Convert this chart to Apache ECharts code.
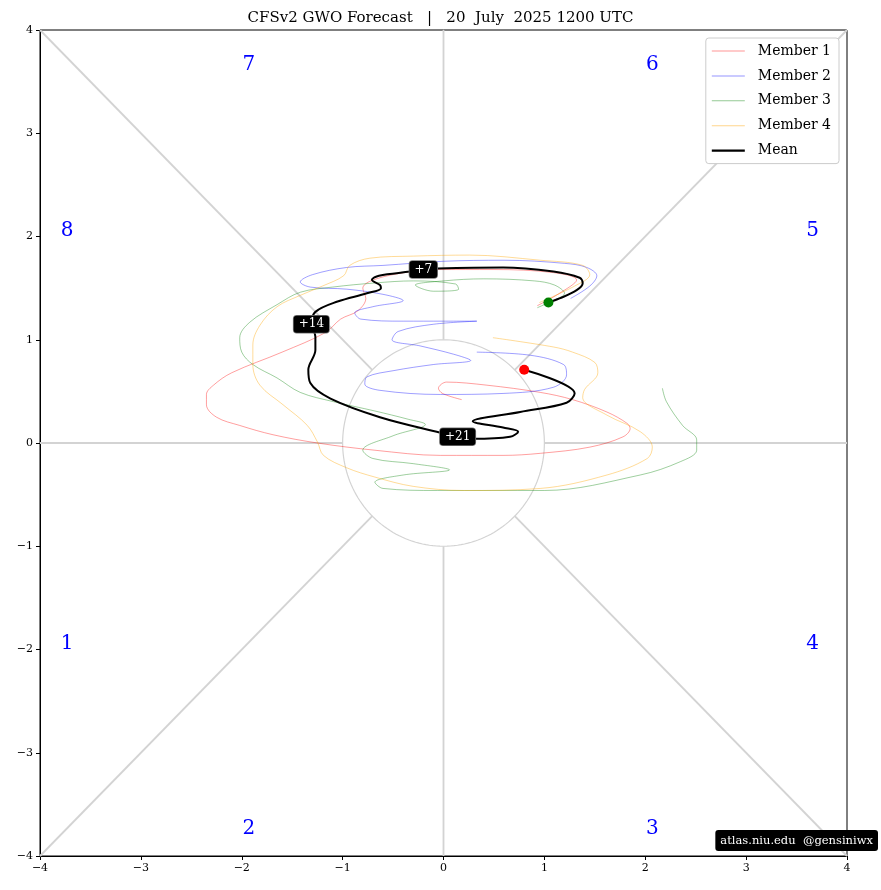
<!DOCTYPE html>
<html><head><meta charset="utf-8">
<script src="https://cdn.jsdelivr.net/npm/echarts@6/dist/echarts.min.js"></script>
<style>html,body{margin:0;padding:0;background:#fff}#c{width:881px;height:890px}</style>
</head><body><div id="c"></div>
<script>
const titleText = 'CFSv2 GWO Forecast   |   20  July  2025 1200 UTC';
const axisTicks = [-4,-3,-2,-1,0,1,2,3,4];
const phaseNames = ['1','2','3','4','5','6','7','8'];
const phaseX = [-3.73,-1.93,2.07,3.66,3.66,2.07,-1.93,-3.73];
const phaseY = [-1.94,-3.74,-3.74,-1.94,2.06,3.66,3.66,2.06];

const member1 = [[0.93,1.33],[1.15,1.45],[1.32,1.58],[1.09,1.65],[0.5,1.68],[-0.06,1.68],[-0.45,1.64],[-0.72,1.57],[-0.80,1.50],[-0.77,1.40],[-0.85,1.28],[-1.02,1.20],[-1.17,1.07],[-1.6,0.88],[-2.10,0.68],[-2.28,0.56],[-2.35,0.47],[-2.35,0.37],[-2.25,0.25],[-2.02,0.17],[-1.69,0.08],[-1.25,0.0],[-0.68,-0.07],[-0.03,-0.12],[0.59,-0.12],[0.96,-0.10],[1.45,-0.04],[1.78,0.06],[1.85,0.14],[1.82,0.19],[1.62,0.30],[1.28,0.42],[0.96,0.49],[0.43,0.56],[0.03,0.59],[-0.05,0.53],[-0.01,0.48],[0.18,0.42]];
const member2 = [[1.26,1.40],[1.45,1.52],[1.52,1.62],[1.42,1.70],[1.2,1.74],[0.6,1.77],[0,1.76],[-0.6,1.72],[-0.96,1.70],[-1.3,1.63],[-1.42,1.56],[-1.32,1.51],[-0.96,1.49],[-0.6,1.44],[-0.40,1.38],[-0.7,1.32],[-0.88,1.26],[-0.82,1.20],[-0.4,1.18],[0.0,1.18],[0.33,1.18],[-0.1,1.15],[-0.45,1.08],[-0.51,1.0],[-0.23,0.94],[0.1,0.86],[0.27,0.80],[-0.1,0.76],[-0.5,0.70],[-0.76,0.64],[-0.78,0.57],[-0.63,0.51],[-0.03,0.47],[0.59,0.48],[1.09,0.54],[1.22,0.66],[1.19,0.76],[0.86,0.85],[0.33,0.88]];
const member3 = [[0.93,1.31],[1.04,1.36],[1.2,1.45],[1.1,1.53],[0.9,1.57],[0.4,1.59],[0.0,1.57],[-0.28,1.53],[-0.1,1.47],[0.15,1.49],[0.12,1.54],[-0.3,1.57],[-0.68,1.55],[-1.1,1.51],[-1.42,1.46],[-1.65,1.34],[-1.92,1.17],[-2.02,1.02],[-2.0,0.88],[-1.89,0.76],[-1.65,0.63],[-1.42,0.49],[-1.09,0.40],[-0.68,0.31],[-0.35,0.23],[-0.18,0.18],[-0.5,0.07],[-0.80,-0.07],[-0.70,-0.15],[-0.3,-0.2],[0.06,-0.26],[-0.4,-0.31],[-0.68,-0.38],[-0.6,-0.44],[-0.06,-0.46],[1.0,-0.46],[1.95,-0.31],[2.35,-0.18],[2.51,-0.07],[2.51,0.03],[2.37,0.17],[2.21,0.40],[2.17,0.53]];
const member4 = [[0.95,1.36],[1.3,1.52],[1.45,1.63],[1.38,1.72],[0.96,1.77],[0.26,1.82],[-0.3,1.81],[-0.73,1.79],[-0.93,1.72],[-0.99,1.62],[-1.2,1.52],[-1.42,1.43],[-1.65,1.32],[-1.82,1.14],[-1.89,0.95],[-1.89,0.76],[-1.82,0.56],[-1.59,0.37],[-1.35,0.17],[-1.25,0.01],[-1.19,-0.12],[-0.96,-0.24],[-0.68,-0.33],[-0.3,-0.42],[0.2,-0.46],[0.96,-0.44],[1.62,-0.31],[2.02,-0.15],[2.07,-0.04],[1.95,0.11],[1.62,0.27],[1.38,0.44],[1.40,0.52],[1.53,0.68],[1.50,0.78],[1.28,0.88],[1.09,0.93],[0.49,1.02]];
const meanPath = [[1.04,1.36],[1.15,1.40],[1.32,1.48],[1.38,1.55],[1.35,1.60],[1.09,1.66],[0.59,1.70],[-0.06,1.69],[-0.20,1.68],[-0.33,1.66],[-0.64,1.62],[-0.71,1.58],[-0.63,1.53],[-0.62,1.50],[-0.76,1.45],[-1.05,1.37],[-1.27,1.27],[-1.31,1.15],[-1.27,1.03],[-1.27,0.90],[-1.34,0.71],[-1.32,0.58],[-1.12,0.43],[-0.63,0.25],[-0.03,0.10],[0.14,0.06],[0.29,0.04],[0.66,0.06],[0.74,0.11],[0.59,0.15],[0.29,0.21],[0.76,0.30],[1.22,0.39],[1.30,0.48],[0.80,0.71]];
const leadLabels = ['+7','+14','+21'];
const leadIdx = [8,17,25];

const serif = 'DejaVu Serif';
const gray = '#d3d3d3';

// phase boundary lines from unit circle to plot edge
const guideSeries = [];
const ext = 4;
for (let k = 0; k < 8; k++) {
  const a = k * Math.PI / 4;
  const c = Math.round(Math.cos(a) * 1e6) / 1e6, s = Math.round(Math.sin(a) * 1e6) / 1e6;
  const m = Math.max(Math.abs(c), Math.abs(s));
  guideSeries.push({type:'line', data:[[c,s],[c*ext/m,s*ext/m]], symbol:'none', silent:true,
    lineStyle:{color:gray,width:1.8}, z:1});
}
const circle = [];
for (let i = 0; i <= 180; i++) { const a = i * 2 * Math.PI / 180; circle.push([Math.cos(a), Math.sin(a)]); }
guideSeries.push({type:'line', data:circle, symbol:'none', silent:true, lineStyle:{color:gray,width:1.2}, z:1});

const memberDefs = [
  ['Member 1', member1, 'rgba(255,0,0,0.42)'],
  ['Member 2', member2, 'rgba(0,0,255,0.42)'],
  ['Member 3', member3, 'rgba(0,128,0,0.42)'],
  ['Member 4', member4, 'rgba(255,165,0,0.45)']
];
const memberSeries = memberDefs.map(([n, d, col]) => ({
  name:n, type:'line', data:d, symbol:'none', smooth:0.35, silent:true,
  lineStyle:{color:col, width:0.9}, itemStyle:{color:col}, z:3
}));
const thinIcon = 'path://M0,0h33v1h-33z';
const thickIcon = 'path://M0,0h33v2.4h-33z';

const chart = echarts.init(document.getElementById('c'), null, {renderer:'canvas'});
const axisCommon = {
  type:'value', min:-4, max:4, interval:1,
  splitLine:{show:false},
  axisLine:{show:true, onZero:false, lineStyle:{color:'#000', width:1}},
  axisTick:{show:true, length:4, lineStyle:{color:'#000'}},
  axisLabel:{color:'#000', fontFamily:serif, fontSize:11, margin:7,
    formatter:v => (v < 0 ? '\u2212' + Math.abs(v) : String(v))}
};
chart.setOption({
  animation:false,
  backgroundColor:'#fff',
  title:{text:titleText, left:'center', top:6,
    textStyle:{fontFamily:serif, fontSize:15, fontWeight:'normal', color:'#000'}},
  grid:{left:40, right:34, top:30, bottom:34, show:true, borderColor:'#000', borderWidth:1, backgroundColor:'transparent'},
  xAxis:Object.assign({}, axisCommon),
  yAxis:Object.assign({}, axisCommon),
  legend:{orient:'vertical', right:42, top:38, itemWidth:33, itemHeight:12, itemGap:10.9,
    symbolKeepAspect:true,
    padding:[6,8,6,6], backgroundColor:'#fff', borderColor:'#ccc', borderWidth:1, borderRadius:3,
    textStyle:{fontFamily:serif, fontSize:14, color:'#000', padding:[0,0,0,8]},
    data:[
      {name:'Member 1', icon:thinIcon},
      {name:'Member 2', icon:thinIcon},
      {name:'Member 3', icon:thinIcon},
      {name:'Member 4', icon:thinIcon},
      {name:'Mean', icon:thickIcon}
    ]},
  graphic:[{type:'text', right:3, bottom:39, z:100,
    style:{text:'atlas.niu.edu  @gensiniwx', fill:'#fff', font:'11.5px "DejaVu Serif"',
      backgroundColor:'#000', padding:[5,5,4,5], borderRadius:3}}],
  series:[
    ...guideSeries,
    ...memberSeries,
    {name:'Mean', type:'line', data:meanPath, symbol:'none', smooth:0.35, silent:true,
      lineStyle:{color:'#000', width:2}, itemStyle:{color:'#000'}, z:5},
    {type:'scatter', data:[meanPath[0]], symbolSize:10, itemStyle:{color:'#008000', opacity:1}, z:6, silent:true},
    {type:'scatter', data:[meanPath[meanPath.length-1]], symbolSize:10, itemStyle:{color:'#ff0000', opacity:1}, z:6, silent:true},
    {type:'scatter', z:7, silent:true, symbolSize:0, itemStyle:{opacity:1},
      data:leadIdx.map((i, j) => ({value:meanPath[i], name:leadLabels[j]})),
      label:{show:true, position:'inside', formatter:p => p.name, color:'#fff', fontFamily:serif, fontSize:12,
        backgroundColor:'#000', borderColor:'#777', borderWidth:0.8, borderRadius:3, padding:[3,5,2,5]}},
    {type:'scatter', z:2, silent:true, symbolSize:0, itemStyle:{opacity:1},
      data:phaseNames.map((n, i) => ({value:[phaseX[i], phaseY[i]], name:n})),
      label:{show:true, position:'inside', formatter:p => p.name, color:'#0000ff', fontFamily:serif, fontSize:20}}
  ]
});
</script></body></html>
